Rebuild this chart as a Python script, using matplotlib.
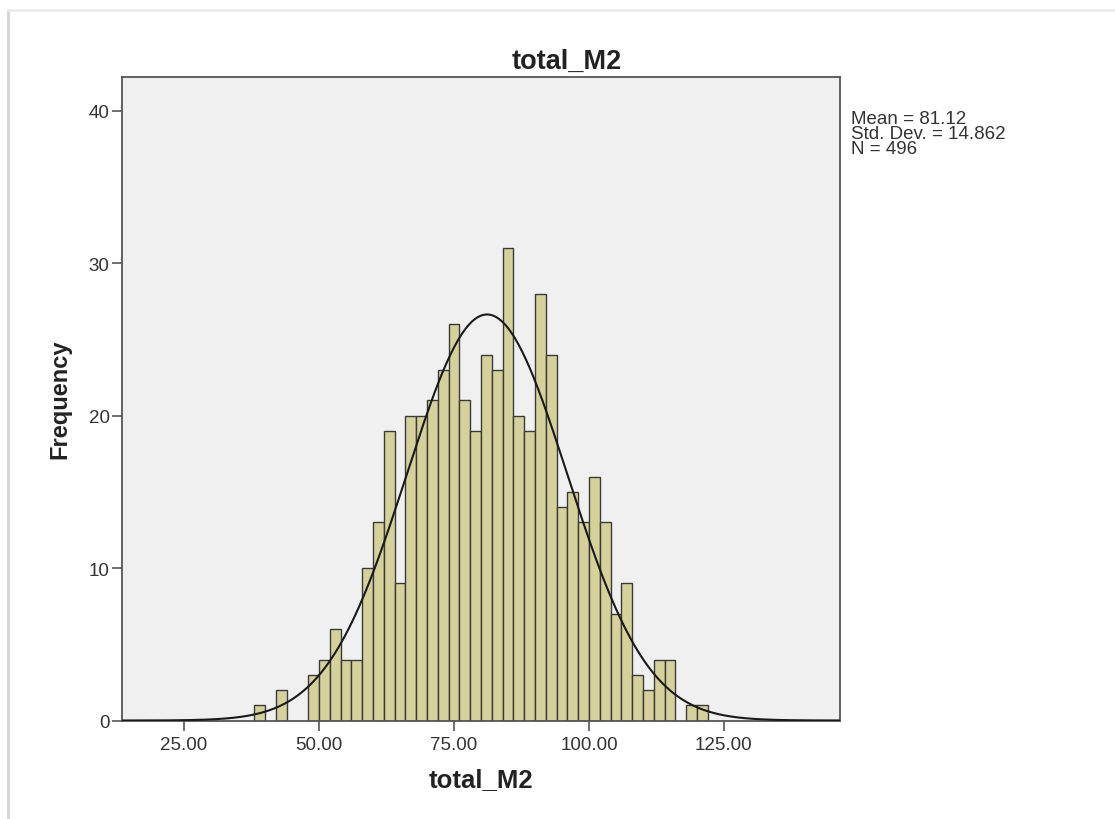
import numpy as np
import matplotlib
matplotlib.use('Agg')
from matplotlib import pyplot as plt
from matplotlib.lines import Line2D

plt.rcParams['font.family'] = ['Liberation Sans', 'DejaVu Sans']

# histogram of total_M2, bin width 2 (left edges 38 .. 120)
bin_starts = list(range(38, 122, 2))
counts = [1, 0, 2, 0, 0, 3, 4, 6, 4, 4, 10, 13, 19, 9, 20, 20, 21, 23, 26, 21,
          19, 24, 23, 31, 20, 19, 28, 24, 14, 15, 13, 16, 13, 7, 9, 3, 2, 4, 4,
          0, 1, 1]
bin_width = 2
mean_val = 81.12
std_val = 14.862
n_val = 496
x_ticks = [25, 50, 75, 100, 125]
y_ticks = [0, 10, 20, 30, 40]

fig = plt.figure(figsize=(11.15, 8.2), dpi=100)
fig.patch.set_facecolor('white')
ax = fig.add_axes([122 / 1115, 1 - 721.5 / 820, 718 / 1115, 643.5 / 820])
ax.set_facecolor('#f0f0f0')

starts = [s for s, c in zip(bin_starts, counts) if c > 0]
heights = [c for c in counts if c > 0]
ax.bar(starts, heights, width=bin_width, align='edge', color='#d5d19b',
       edgecolor='#3a3a3a', linewidth=1.0, zorder=2)

# normal curve from the reported statistics
xs = np.linspace(13.5, 146.5, 600)
ys = n_val * bin_width * np.exp(-0.5 * ((xs - mean_val) / std_val) ** 2) / (std_val * np.sqrt(2 * np.pi))
ax.plot(xs, ys, color='#1a1a1a', linewidth=1.5, zorder=3)

ax.set_xlim(13.5, 146.5)
ax.set_ylim(0, 42.2)
ax.set_xticks(x_ticks)
ax.set_xticklabels(['%.2f' % v for v in x_ticks])
ax.set_yticks(y_ticks)
ax.tick_params(axis='x', length=7, width=1.2, color='#555555', pad=4,
               labelsize=13.5, labelcolor='#333333')
ax.tick_params(axis='y', length=7, width=1.2, color='#555555', pad=2,
               labelsize=13.5, labelcolor='#333333')
for sp in ax.spines.values():
    sp.set_color('#555555')
    sp.set_linewidth(1.3)

ax.set_xlabel('total_M2', fontsize=18.5, fontweight='bold', color='#222222', va='center')
ax.xaxis.set_label_coords(0.5, -0.091)
ax.set_ylabel('Frequency', fontsize=17, fontweight='bold', color='#222222', va='center')
ax.yaxis.set_label_coords(-0.0864, 0.5)

fig.text(567 / 1115, 1 - 62 / 820, 'total_M2', fontsize=19.5, fontweight='bold',
         color='#222222', ha='center', va='center')

fig.text(851 / 1115, 1 - 111 / 820,
         'Mean = %.2f\nStd. Dev. = %.3f\nN = %d' % (mean_val, std_val, n_val),
         fontsize=13.5, color='#333333', ha='left', va='top', linespacing=0.85)

# faint screenshot frame
fig.add_artist(Line2D([8 / 1115, 8 / 1115], [0, 1 - 11 / 820], color='#d4d4d4',
                      linewidth=2, transform=fig.transFigure))
fig.add_artist(Line2D([8 / 1115, 1], [1 - 11 / 820, 1 - 11 / 820], color='#ececec',
                      linewidth=2, transform=fig.transFigure))

fig.savefig('out.png', dpi=100, facecolor='white')
